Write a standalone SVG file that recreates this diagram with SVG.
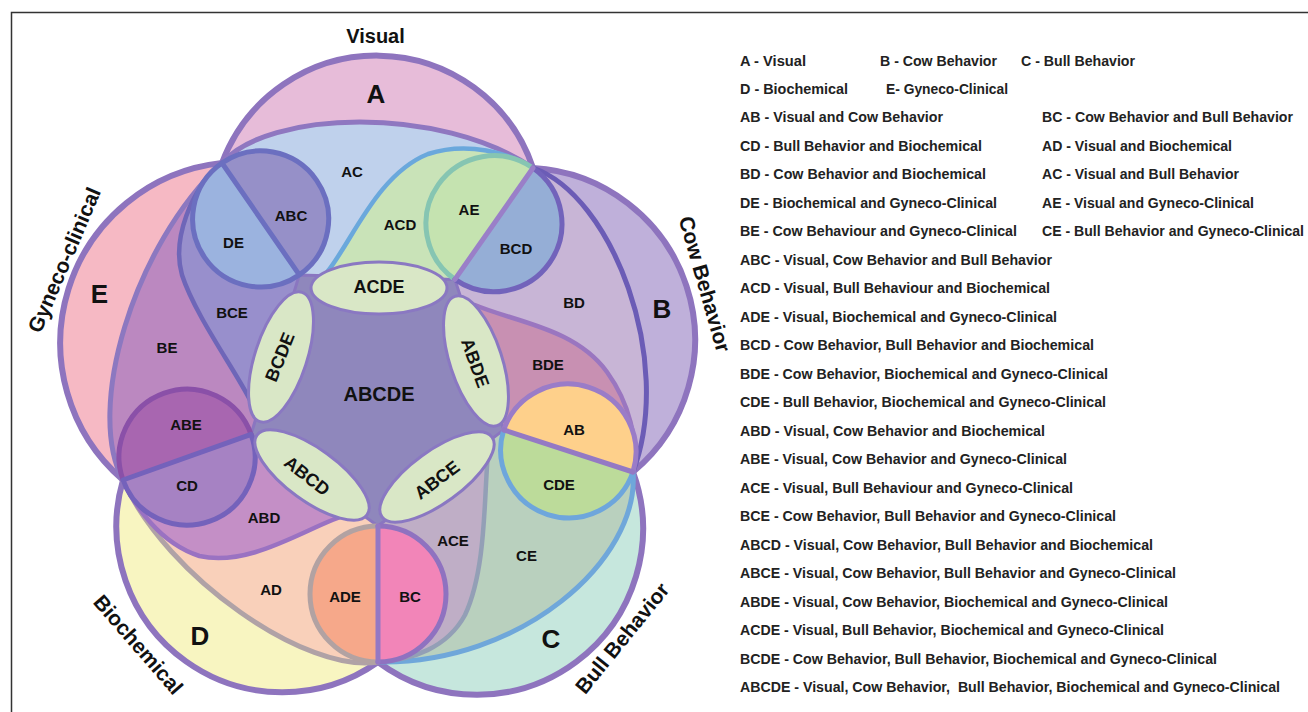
<svg xmlns="http://www.w3.org/2000/svg" width="1308" height="712" viewBox="0 0 1308 712">
<style>
text{font-family:"Liberation Sans",Arial,Helvetica,sans-serif;font-weight:bold;fill:#111;}
.r{font-size:15px;text-anchor:middle;dominant-baseline:central;}
.q{font-size:18px;text-anchor:middle;dominant-baseline:central;}
.c5{font-size:20px;text-anchor:middle;dominant-baseline:central;}
.big{font-size:26px;text-anchor:middle;dominant-baseline:central;}
.t{font-size:21px;text-anchor:middle;dominant-baseline:central;}
.lg{font-size:14px;dominant-baseline:central;fill:#222;}
.ol{fill:none;stroke:#8e74be;stroke-width:6;stroke-linecap:round;}
.il{fill:none;stroke-width:5;stroke-linecap:round;}
.sl{fill:none;stroke-width:4.5;stroke-linecap:round;}
.ca{fill:none;stroke-width:5;stroke-linecap:round;}
.ell{fill:#d9e7c6;stroke:#8a78c2;stroke-width:3;}
</style>
<rect width="1308" height="712" fill="#fff"/>
<path d="M11.5,712 V12.5 H1308" fill="none" stroke="#333" stroke-width="1.5"/>

<g id="venn">
<g id="bands">
<path d="M222,163 A165,165 0 0 1 533,168 L378,389 Z" fill="#e7bcd9"/>
<path d="M533,168 A172,172 0 0 1 633,472 L378,389 Z" fill="#bfb0da"/>
<path d="M633,472 A166,166 0 0 1 378,662 L378,389 Z" fill="#c6e7dd"/>
<path d="M378,662 A166,166 0 0 1 123,480 L378,389 Z" fill="#f8f5c1"/>
<path d="M123,480 A181,181 0 0 1 222,163 L378,389 Z" fill="#f6b9c4"/>
</g>
<g id="pairs">
<path d="M222,163 C268,110 440,105 533,168 L378,389 Z" fill="#bfd1ec"/>
<path d="M533,168 C612,195 675,360 633,472 L378,389 Z" fill="#c8b5d6"/>
<path d="M633,472 C640,560 520,665 378,662 L378,389 Z" fill="#b9d0be"/>
<path d="M378,662 C307,674 167,578 123,480 L378,389 Z" fill="#f9d0ba"/>
<path d="M123,480 C85,410 133,246 222,163 L378,389 Z" fill="#bb88c0"/>
</g>
<g id="triples">
<path d="M328,271 C353,239 378,174 428,154 C468,141 508,153 533,168 L454.9,279.4 L380,288 Z" fill="#c9e3b8"/>
<path d="M474.8,305 C515,322 575,328 607,372 C630,404 638,440 633,472 L503.7,429.9 L476,361 Z" fill="#c890b2"/>
<path d="M487.8,455.1 C484,500 486,570 465,615 C447,648 412,660 378,662 L378,526 L437,477 Z" fill="#bfaec6"/>
<path d="M349.1,513.9 C310.1,525 251.6,568 199.4,556 C159.4,543 134.1,505 123,480 L251.1,434.3 L312,475 Z" fill="#c48fc6"/>
<path d="M250,400 C235,370 195,315 182,275 C172,240 190,190 222,163 L299.3,274.9 L281,357 Z" fill="#988fcc"/>
</g>
<g id="boundaries">
<path class="ol" d="M222,163 A165,165 0 0 1 533,168"/>
<path class="ol" d="M533,168 A172,172 0 0 1 633,472"/>
<path class="ol" d="M633,472 A166,166 0 0 1 378,662"/>
<path class="ol" d="M378,662 A166,166 0 0 1 123,480"/>
<path class="ol" d="M123,480 A181,181 0 0 1 222,163"/>
<path class="il" stroke="#8f77c0" d="M222,163 C268,110 440,105 533,168"/>
<path class="il" stroke="#6b5cb6" d="M533,168 C612,195 675,360 633,472"/>
<path class="il" stroke="#6fa7da" d="M633,472 C640,560 520,665 378,662"/>
<path class="il" stroke="#b0a2a6" d="M378,662 C307,674 167,578 123,480"/>
<path class="il" stroke="#8c78c0" d="M123,480 C85,410 133,246 222,163"/>
<path class="sl" stroke="#6aa8dc" d="M328,271 C353,239 378,174 428,154 C468,141 508,153 533,168"/>
<path class="sl" stroke="#9a76c0" d="M474.8,305 C515,322 575,328 607,372 C630,404 638,440 633,472"/>
<path class="sl" stroke="#939fb6" d="M487.8,455.1 C484,500 486,570 465,615 C447,648 412,660 378,662"/>
<path class="sl" stroke="#9a72c2" d="M349.1,513.9 C310.1,525 251.6,568 199.4,556 C159.4,543 134.1,505 123,480"/>
<path class="sl" stroke="#6e66b8" d="M250,400 C235,370 195,315 182,275 C172,240 190,190 222,163"/>
</g>
<polygon id="core" points="299.3,274.9 454.9,279.4 503.7,429.9 378,526 251.1,434.3" fill="#8f87bc" stroke="#8a76c0" stroke-width="3" stroke-linejoin="round"/>
<g id="circle-ABC-DE">
<path d="M222,163 A68,68 0 0 1 299.3,274.9 Z" fill="#9690c8"/>
<path d="M222,163 A68,68 0 0 0 299.3,274.9 Z" fill="#9bb3df"/>
<path class="ca" stroke="#6b6fc0" d="M222,163 A68,68 0 0 1 299.3,274.9 A68,68 0 0 1 222,163 L299.3,274.9"/>
</g>
<g id="circle-AE-BCD">
<path d="M533,168 A68,68 0 0 1 454.9,279.4 Z" fill="#95aed6"/>
<path d="M533,168 A68,68 0 0 0 454.9,279.4 Z" fill="#c5e3b0"/>
<path class="ca" stroke="#86c5b2" d="M533,168 A68,68 0 0 0 454.9,279.4"/>
<path class="ca" stroke="#7263bb" d="M533,168 A68,68 0 0 1 454.9,279.4"/>
<path class="ca" stroke="#9a7fc8" d="M533,168 L454.9,279.4"/>
</g>
<g id="circle-AB-CDE">
<path d="M633,472 A68,68 0 0 1 503.7,429.9 Z" fill="#bcdb9a"/>
<path d="M633,472 A68,68 0 0 0 503.7,429.9 Z" fill="#fed08b"/>
<path class="ca" stroke="#6ea6dc" d="M633,472 A68,68 0 0 1 503.7,429.9"/>
<path class="ca" stroke="#9a7cc8" d="M633,472 A68,68 0 0 0 503.7,429.9"/>
<path class="ca" stroke="#9479c4" d="M633,472 L503.7,429.9"/>
</g>
<g id="circle-ADE-BC">
<path d="M378,662 A68,68 0 0 1 378,526 Z" fill="#f6a88a"/>
<path d="M378,662 A68,68 0 0 0 378,526 Z" fill="#f285b8"/>
<path class="ca" stroke="#b2a2a2" d="M378,662 A68,68 0 0 1 378,526"/>
<path class="ca" stroke="#8f72c0" d="M378,662 A68,68 0 0 0 378,526"/>
<path class="ca" stroke="#9478c4" d="M378,662 L378,526"/>
</g>
<g id="circle-ABE-CD">
<path d="M123,480 A68,68 0 0 1 251.1,434.3 Z" fill="#a866b0"/>
<path d="M123,480 A68,68 0 0 0 251.1,434.3 Z" fill="#a682c3"/>
<path class="ca" stroke="#8a50a8" d="M123,480 A68,68 0 0 1 251.1,434.3"/>
<path class="ca" stroke="#7462bb" d="M123,480 A68,68 0 0 0 251.1,434.3 M123,480 L251.1,434.3"/>
</g>
<g id="quads">
<ellipse class="ell" cx="379" cy="288" rx="68" ry="26"/>
<ellipse class="ell" cx="476" cy="361" rx="68" ry="26" transform="rotate(72 476 361)"/>
<ellipse class="ell" cx="437" cy="477" rx="68" ry="26" transform="rotate(-36 437 477)"/>
<ellipse class="ell" cx="312" cy="475" rx="68" ry="26" transform="rotate(36 312 475)"/>
<ellipse class="ell" cx="281" cy="357" rx="68" ry="26" transform="rotate(-72 281 357)"/>
</g>
</g>

<g id="region-labels">
<text class="r" x="352" y="171">AC</text>
<text class="r" x="291" y="215">ABC</text>
<text class="r" x="233.5" y="242.5">DE</text>
<text class="r" x="400" y="224">ACD</text>
<text class="r" x="469" y="209">AE</text>
<text class="r" x="516" y="248">BCD</text>
<text class="r" x="574" y="302.5">BD</text>
<text class="r" x="232" y="312.5">BCE</text>
<text class="r" x="167" y="347.5">BE</text>
<text class="r" x="548" y="364">BDE</text>
<text class="r" x="574" y="429">AB</text>
<text class="r" x="186" y="424.5">ABE</text>
<text class="r" x="187" y="485">CD</text>
<text class="r" x="559" y="484.5">CDE</text>
<text class="r" x="264" y="517.5">ABD</text>
<text class="r" x="453" y="540">ACE</text>
<text class="r" x="526.5" y="555">CE</text>
<text class="r" x="271" y="589">AD</text>
<text class="r" x="345" y="596">ADE</text>
<text class="r" x="410" y="596">BC</text>
<text class="q" x="379" y="287">ACDE</text>
<text class="q" transform="translate(280,357) rotate(-68)">BCDE</text>
<text class="q" transform="translate(475,363) rotate(70)">ABDE</text>
<text class="q" transform="translate(307,476) rotate(38)">ABCD</text>
<text class="q" transform="translate(437,480) rotate(-37)">ABCE</text>
<text class="c5" x="379" y="394">ABCDE</text>
<text class="big" x="376" y="94">A</text>
<text class="big" x="662" y="309">B</text>
<text class="big" x="551" y="639">C</text>
<text class="big" x="200" y="636">D</text>
<text class="big" x="99.5" y="294">E</text>
</g>
<g id="set-titles">
<text class="t" x="375.5" y="36" style="font-size:20px">Visual</text>
<text class="t" transform="translate(705,284) rotate(74)">Cow Behavior</text>
<text class="t" transform="translate(622,638) rotate(-51)">Bull Behavior</text>
<text class="t" transform="translate(138.5,644.5) rotate(49)">Biochemical</text>
<text class="t" transform="translate(64,260) rotate(-67)">Gyneco-clinical</text>
</g>

<g id="legend">
<text class="lg" x="740" y="61" textLength="66" lengthAdjust="spacingAndGlyphs">A - Visual</text>
<text class="lg" x="880" y="61" textLength="117" lengthAdjust="spacingAndGlyphs">B - Cow Behavior</text>
<text class="lg" x="1021" y="61" textLength="114" lengthAdjust="spacingAndGlyphs">C - Bull Behavior</text>
<text class="lg" x="740" y="89" textLength="108" lengthAdjust="spacingAndGlyphs">D - Biochemical</text>
<text class="lg" x="886" y="89" textLength="122" lengthAdjust="spacingAndGlyphs">E- Gyneco-Clinical</text>
<text class="lg" x="740" y="117" textLength="203" lengthAdjust="spacingAndGlyphs">AB - Visual and Cow Behavior</text>
<text class="lg" x="1042" y="117" textLength="251" lengthAdjust="spacingAndGlyphs">BC - Cow Behavior and Bull Behavior</text>
<text class="lg" x="740" y="146" textLength="242" lengthAdjust="spacingAndGlyphs">CD - Bull Behavior and Biochemical</text>
<text class="lg" x="1042" y="146" textLength="190" lengthAdjust="spacingAndGlyphs">AD - Visual and Biochemical</text>
<text class="lg" x="740" y="174" textLength="246" lengthAdjust="spacingAndGlyphs">BD - Cow Behavior and Biochemical</text>
<text class="lg" x="1042" y="174" textLength="197" lengthAdjust="spacingAndGlyphs">AC - Visual and Bull Behavior</text>
<text class="lg" x="740" y="203" textLength="257" lengthAdjust="spacingAndGlyphs">DE - Biochemical and Gyneco-Clinical</text>
<text class="lg" x="1042" y="203" textLength="212" lengthAdjust="spacingAndGlyphs">AE - Visual and Gyneco-Clinical</text>
<text class="lg" x="740" y="231" textLength="277" lengthAdjust="spacingAndGlyphs">BE - Cow Behaviour and Gyneco-Clinical</text>
<text class="lg" x="1042" y="231" textLength="262" lengthAdjust="spacingAndGlyphs">CE - Bull Behavior and Gyneco-Clinical</text>
<text class="lg" x="740" y="260" textLength="312" lengthAdjust="spacingAndGlyphs">ABC - Visual, Cow Behavior and Bull Behavior</text>
<text class="lg" x="740" y="288" textLength="310" lengthAdjust="spacingAndGlyphs">ACD - Visual, Bull Behaviour and Biochemical</text>
<text class="lg" x="740" y="317" textLength="317" lengthAdjust="spacingAndGlyphs">ADE - Visual, Biochemical and Gyneco-Clinical</text>
<text class="lg" x="740" y="345" textLength="354" lengthAdjust="spacingAndGlyphs">BCD - Cow Behavior, Bull Behavior and Biochemical</text>
<text class="lg" x="740" y="374" textLength="368" lengthAdjust="spacingAndGlyphs">BDE - Cow Behavior, Biochemical and Gyneco-Clinical</text>
<text class="lg" x="740" y="402" textLength="366" lengthAdjust="spacingAndGlyphs">CDE - Bull Behavior, Biochemical and Gyneco-Clinical</text>
<text class="lg" x="740" y="431" textLength="305" lengthAdjust="spacingAndGlyphs">ABD - Visual, Cow Behavior and Biochemical</text>
<text class="lg" x="740" y="459" textLength="327" lengthAdjust="spacingAndGlyphs">ABE - Visual, Cow Behavior and Gyneco-Clinical</text>
<text class="lg" x="740" y="488" textLength="333" lengthAdjust="spacingAndGlyphs">ACE - Visual, Bull Behaviour and Gyneco-Clinical</text>
<text class="lg" x="740" y="516" textLength="376" lengthAdjust="spacingAndGlyphs">BCE - Cow Behavior, Bull Behavior and Gyneco-Clinical</text>
<text class="lg" x="740" y="545" textLength="413" lengthAdjust="spacingAndGlyphs">ABCD - Visual, Cow Behavior, Bull Behavior and Biochemical</text>
<text class="lg" x="740" y="573" textLength="436" lengthAdjust="spacingAndGlyphs">ABCE - Visual, Cow Behavior, Bull Behavior and Gyneco-Clinical</text>
<text class="lg" x="740" y="602" textLength="428" lengthAdjust="spacingAndGlyphs">ABDE - Visual, Cow Behavior, Biochemical and Gyneco-Clinical</text>
<text class="lg" x="740" y="630" textLength="424" lengthAdjust="spacingAndGlyphs">ACDE - Visual, Bull Behavior, Biochemical and Gyneco-Clinical</text>
<text class="lg" x="740" y="659" textLength="477" lengthAdjust="spacingAndGlyphs">BCDE - Cow Behavior, Bull Behavior, Biochemical and Gyneco-Clinical</text>
<text class="lg" x="740" y="687" textLength="540" lengthAdjust="spacingAndGlyphs" xml:space="preserve">ABCDE - Visual, Cow Behavior,  Bull Behavior, Biochemical and Gyneco-Clinical</text>
</g>
</svg>
